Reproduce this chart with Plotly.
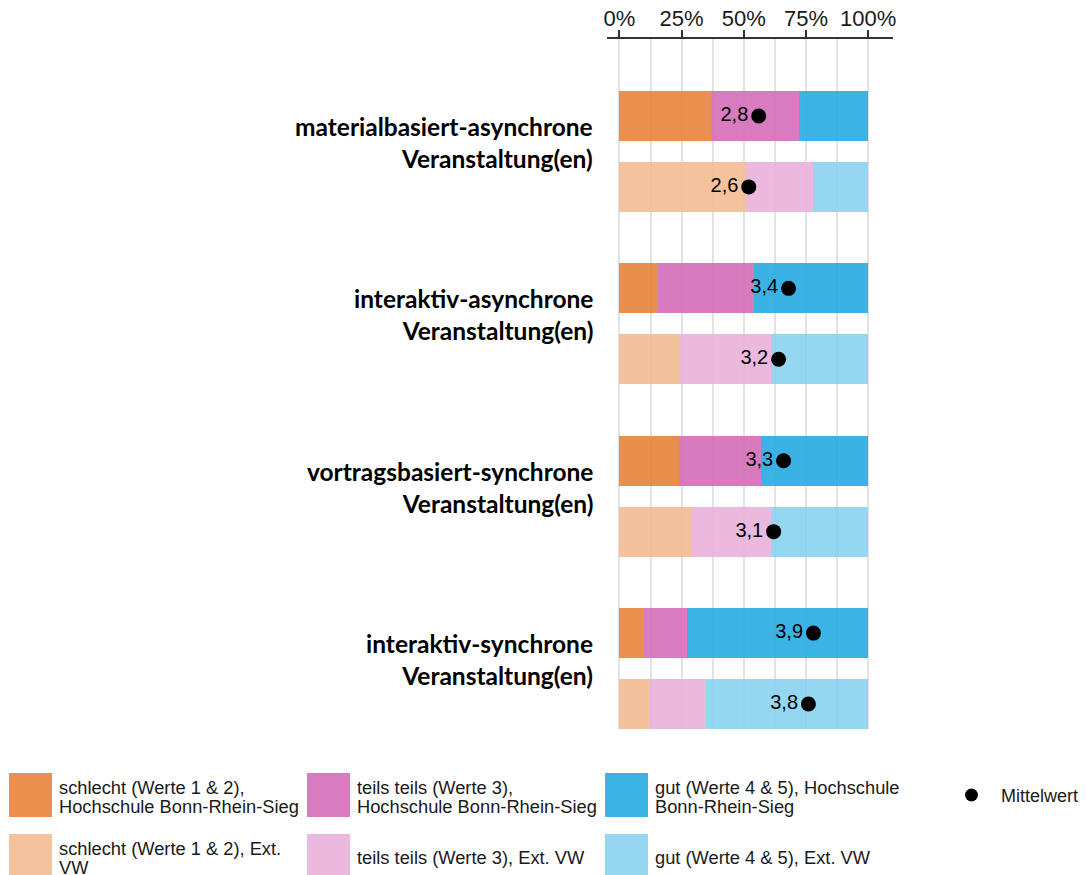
import plotly.graph_objects as go

# Data (percent shares per category; HBRS = Hochschule Bonn-Rhein-Sieg, EXT = Ext. VW)
CATEGORIES = [
    "materialbasiert-asynchrone<br>Veranstaltung(en)",
    "interaktiv-asynchrone<br>Veranstaltung(en)",
    "vortragsbasiert-synchrone<br>Veranstaltung(en)",
    "interaktiv-synchrone<br>Veranstaltung(en)",
]
SCHLECHT_HBRS = [37, 15, 24, 10]
TEILS_HBRS = [35, 39, 33, 17]
GUT_HBRS = [28, 46, 43, 73]
SCHLECHT_EXT = [51, 24, 29, 12]
TEILS_EXT = [27, 37, 32, 23]
GUT_EXT = [22, 39, 39, 65]
MEAN_HBRS = [2.8, 3.4, 3.3, 3.9]
MEAN_EXT = [2.6, 3.2, 3.1, 3.8]
X_TICKS = [0, 25, 50, 75, 100]
X_TICK_LABELS = ["0%", "25%", "50%", "75%", "100%"]

SERIES = [
    (["schlecht (Werte 1 & 2),", "Hochschule Bonn-Rhein-Sieg"], SCHLECHT_HBRS, "#E8873F", 0),
    (["teils teils (Werte 3),", "Hochschule Bonn-Rhein-Sieg"], TEILS_HBRS, "#D571BA", 0),
    (["gut (Werte 4 & 5), Hochschule", "Bonn-Rhein-Sieg"], GUT_HBRS, "#2DADE3", 0),
    (["schlecht (Werte 1 & 2), Ext.", "VW"], SCHLECHT_EXT, "#F3BD95", 1),
    (["teils teils (Werte 3), Ext. VW"], TEILS_EXT, "#EAB4DC", 1),
    (["gut (Werte 4 & 5), Ext. VW"], GUT_EXT, "#8DD3F0", 1),
]

# page body has an 8px margin, so the figure is drawn 8px in from the corner
PAGE_OFFSET = 8
W, H = 1086 - PAGE_OFFSET, 875 - PAGE_OFFSET
L, R, T, B = 607 - PAGE_OFFSET, 193, 39 - PAGE_OFFSET, 146
GROUP_PITCH = 2.43
FONT = "Liberation Sans, Arial, sans-serif"
LEGEND_SIZE = 18.3


def ypos(row):
    return [i * GROUP_PITCH + row for i in range(len(CATEGORIES))]


def px_x(px):
    return (px - PAGE_OFFSET - L) / (W - L - R)


def px_y(py):
    return (H - B - (py - PAGE_OFFSET)) / (H - T - B)


fig = go.Figure()

for lines, vals, color, row in SERIES:
    fig.add_trace(
        go.Bar(
            x=vals,
            y=ypos(row),
            orientation="h",
            width=0.704,
            marker=dict(color=color, line=dict(width=0)),
            opacity=0.93,
            name=" ".join(lines),
            showlegend=False,
        )
    )

for means, row in [(MEAN_HBRS, 0), (MEAN_EXT, 1)]:
    fig.add_trace(
        go.Scatter(
            x=[m / 5 * 100 for m in means],
            y=ypos(row),
            mode="markers+text",
            marker=dict(color="black", size=15),
            text=[f"{m:.1f}".replace(".", ",") for m in means],
            textposition="middle left",
            textfont=dict(family=FONT, size=20, color="black"),
            name="Mittelwert",
            showlegend=False,
        )
    )

for i, cat in enumerate(CATEGORIES):
    fig.add_annotation(
        x=0,
        xref="paper",
        y=i * GROUP_PITCH + 0.5,
        yref="y",
        text=f"<b>{cat}</b>",
        showarrow=False,
        xanchor="right",
        align="right",
        xshift=-12,
        yshift=9,
        font=dict(family="Lato, sans-serif", size=24.5, color="black"),
    )

# Legend drawn manually (large colour swatches)
legend_cols = [(9, 52, 57), (307, 350, 355), (605, 648, 653)]
legend_rows = [(773, 817), (834, 877)]
LINE_STEP = 19
for k, (lines, vals, color, row) in enumerate(SERIES):
    x0, x1, xt = legend_cols[k % 3]
    y0, y1 = legend_rows[row]
    fig.add_shape(
        type="rect",
        xref="paper",
        yref="paper",
        x0=px_x(x0),
        x1=px_x(x1),
        y0=px_y(y1),
        y1=px_y(y0),
        fillcolor=color,
        opacity=0.93,
        line=dict(width=0),
        layer="above",
    )
    yc = (y0 + y1) / 2 + 2
    for j, line in enumerate(lines):
        fig.add_annotation(
            xref="paper",
            yref="paper",
            x=px_x(xt),
            y=px_y(yc + (j - (len(lines) - 1) / 2) * LINE_STEP),
            text=line,
            showarrow=False,
            xanchor="left",
            yanchor="middle",
            align="left",
            font=dict(family=FONT, size=LEGEND_SIZE, color="#1a1a1a"),
        )

fig.add_shape(
    type="circle",
    xref="paper",
    yref="paper",
    x0=px_x(965),
    x1=px_x(978),
    y0=px_y(801.5),
    y1=px_y(788.5),
    fillcolor="black",
    line=dict(width=0),
)
fig.add_annotation(
    xref="paper",
    yref="paper",
    x=px_x(999),
    y=px_y(796),
    text="Mittelwert",
    showarrow=False,
    xanchor="left",
    yanchor="middle",
    font=dict(family=FONT, size=18, color="#1a1a1a"),
)

fig.update_layout(
    width=W,
    height=H,
    barmode="stack",
    bargap=0,
    plot_bgcolor="white",
    paper_bgcolor="white",
    showlegend=False,
    margin=dict(l=L, r=R, t=T, b=B, pad=0, autoexpand=False),
)
fig.update_xaxes(
    range=[-5, 110],
    side="top",
    tickvals=X_TICKS,
    ticktext=X_TICK_LABELS,
    tickfont=dict(family=FONT, size=22, color="#1a1a1a"),
    ticks="outside",
    ticklen=7,
    tickwidth=2,
    tickcolor="#333333",
    ticklabelstandoff=-5,
    showline=True,
    linecolor="#333333",
    linewidth=2,
    showgrid=True,
    gridcolor="#e2e2e2",
    gridwidth=2,
    minor=dict(dtick=12.5, tick0=0, showgrid=True, gridcolor="#e2e2e2", gridwidth=2),
    zeroline=False,
    automargin=False,
    fixedrange=True,
)
fig.update_yaxes(
    range=[3 * GROUP_PITCH + 1 + 0.352, -1.085],
    showticklabels=False,
    showgrid=False,
    zeroline=False,
    showline=False,
    automargin=False,
)

fig.write_html("out.html")
